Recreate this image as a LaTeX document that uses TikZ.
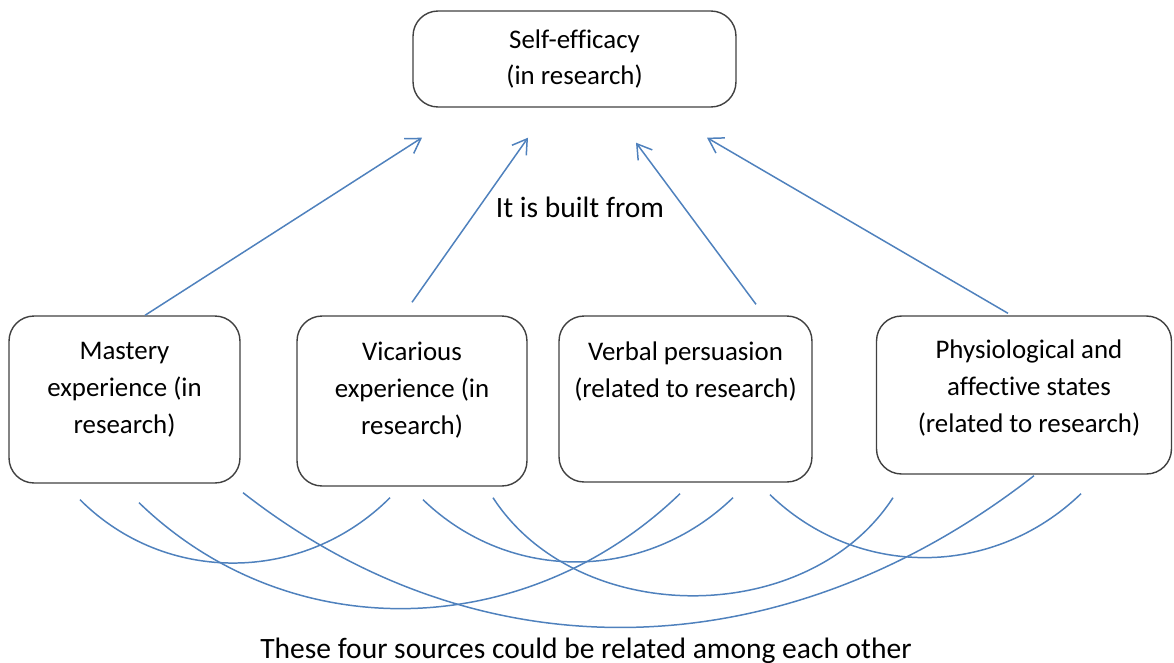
\documentclass[tikz,border=0pt]{standalone}
\usepackage{fontspec}
\setmainfont{Carlito}[Ligatures=NoCommon]
\usetikzlibrary{
    arrows.meta,   % For the open arrow tips
    positioning,   % For relative placement of the box texts
    calc           % For offsets from node anchors
}
\definecolor{linkblue}{RGB}{79,129,189}
\definecolor{boxgray}{RGB}{64,64,64}

\begin{document}
\begin{tikzpicture}[
    x=0.02cm, y=-0.02cm,
    font=\fontsize{15.3}{21}\selectfont,
    sourcebox/.style={draw=boxgray, line width=0.8pt, rounded corners=0.5cm, inner sep=0pt},
    boxtext/.style={align=center, inner sep=0pt},
    buildarrow/.style={-{Straight Barb[length=8pt, width=10pt]}, linkblue, line width=0.85pt},
    relation/.style={linkblue, line width=0.85pt},
    bigtext/.style={font=\fontsize{16.8}{20}\selectfont, anchor=base, inner sep=0pt}
]
    \useasboundingbox (0,0) rectangle (1174,663);

    % --- The Target ---
    \node[sourcebox, minimum width=6.46cm, minimum height=1.92cm, align=center] (selfeff) at (574.5,59)
        {Self-efficacy\\(in research)};

    % --- The Four Sources ---
    \node[sourcebox, minimum width=4.62cm, minimum height=3.34cm] (mastery) at (124.5,399.5) {};
    \node[sourcebox, minimum width=4.60cm, minimum height=3.40cm] (vicarious) at (412,401) {};
    \node[sourcebox, minimum width=5.06cm, minimum height=3.32cm] (verbal) at (685.5,399) {};
    \node[sourcebox, minimum width=5.90cm, minimum height=3.16cm] (physio) at (1024,395) {};

    \node[boxtext, below=0.53cm of mastery.north] (mastery_text) {Mastery\\experience (in\\research)};
    \node[boxtext, below=0.53cm of vicarious.north] (vicarious_text) {Vicarious\\experience (in\\research)};
    \node[boxtext, below=0.53cm of verbal.north] (verbal_text) {Verbal persuasion\\(related to research)};
    \node[boxtext, below=0.49cm of physio.north, xshift=0.1cm] (physio_text) {Physiological and\\affective states\\(related to research)};

    % --- Arrows up to the target ---
    \draw[buildarrow] ($(mastery.north)+(20.5,0)$) -- ($(selfeff.south)+(-152.5,30)$);
    \draw[buildarrow] ($(vicarious.north)+(0,-13)$) -- ($(selfeff.south)+(-46.5,30)$);
    \draw[buildarrow] ($(verbal.north)+(70.5,-11)$) -- ($(selfeff.south)+(61.5,35)$);
    \draw[buildarrow] ($(physio.north)+(-16,-2)$) -- ($(selfeff.south)+(132.5,30)$);

    \node[bigtext] (built_label) at (580,217) {It is built from};

    % --- Relations among the sources ---
    \draw[relation] ($(mastery.south)+(-44.5,16)$) to[out=-45, in=-135] ($(vicarious.south)+(-22,11)$);
    \draw[relation] ($(mastery.south)+(14.5,19)$) to[out=-44, in=-136] ($(verbal.south)+(-5.5,11)$);
    \draw[relation] ($(mastery.south)+(118.5,9)$) to[out=-38, in=-142] ($(physio.south)+(10,1)$);
    \draw[relation] ($(vicarious.south)+(11,13)$) to[out=-44, in=-136] ($(verbal.south)+(47.5,15)$);
    \draw[relation] ($(vicarious.south)+(81,11)$) to[out=-57, in=-123] ($(physio.south)+(-131,23)$);
    \draw[relation] ($(verbal.south)+(84.5,12)$) to[out=-44, in=-136] ($(physio.south)+(57,19)$);

    \node[bigtext] (related_label) at (586,658) {These four sources could be related among each other};
\end{tikzpicture}
\end{document}
